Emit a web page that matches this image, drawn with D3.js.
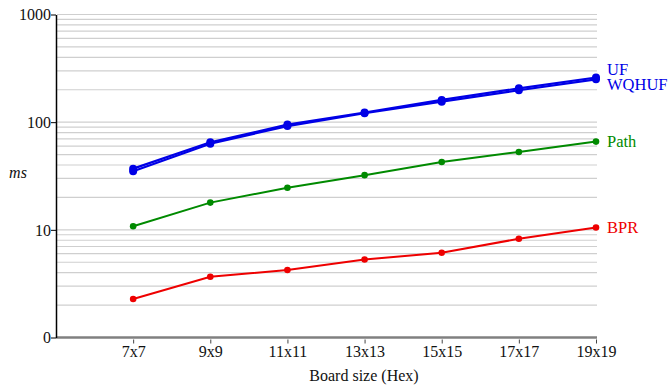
<!DOCTYPE html>
<html>
<head>
<meta charset="utf-8">
<script src="https://cdn.jsdelivr.net/npm/d3@7"></script>
<style>
  html, body { margin: 0; padding: 0; background: #fff; }
  svg { display: block; }
  svg text { font-family: "Liberation Serif", "Times New Roman", Times, serif !important; }
</style>
</head>
<body>
<svg id="chart" width="670" height="387"></svg>
<script>
// Board sizes on the x axis
const boards = ["7x7", "9x9", "11x11", "13x13", "15x15", "17x17", "19x19"];

// Run times in milliseconds for each algorithm
const ufTimes    = [37, 65, 95, 123, 161, 206, 260];
const wqhufTimes = [35, 63, 92, 121, 155, 198, 250];
const pathTimes  = [10.8, 17.9, 24.6, 32.2, 42.6, 52.9, 66];
const bprTimes   = [2.28, 3.67, 4.24, 5.3, 6.12, 8.26, 10.5];

// Y tick values and their labels
const yTicks = [1, 10, 100, 1000];
const yTickLabels = ["0", "10", "100", "1000"];

const series = [
  { name: "UF",    values: ufTimes,    color: "#0000e6", width: 2.2, r: 4,   labelDy: -2.5 },
  { name: "WQHUF", values: wqhufTimes, color: "#0000e6", width: 2.2, r: 4,   labelDy: 10.5 },
  { name: "Path",  values: pathTimes,  color: "#008a00", width: 2,   r: 3.3, labelDy: 5 },
  { name: "BPR",   values: bprTimes,   color: "#ee0000", width: 2,   r: 3.3, labelDy: 5 }
];

const svg = d3.select("#chart");
const plotLeft = 56, plotRight = 597, plotTop = 14.5, plotBottom = 337.5;

// One empty slot to the left of the first board size
const x = d3.scaleLinear().domain([-1, boards.length - 1]).range([plotLeft, 596]);
const y = d3.scaleLog().domain([1, 1000]).range([plotBottom, plotTop]);

// Minor grid lines at every 1..9 multiple of each decade
const gridVals = [];
for (let d = 1; d <= 100; d *= 10) {
  for (let m = 2; m <= 10; m++) gridVals.push(d * m);
}
svg.append("g").selectAll("line").data(gridVals).join("line")
  .attr("x1", plotLeft + 1).attr("x2", plotRight)
  .attr("y1", v => y(v)).attr("y2", v => y(v))
  .attr("stroke", "#cfcfcf").attr("stroke-width", 1.2);

// X axis
const xAxis = svg.append("g").attr("transform", `translate(0,${plotBottom})`)
  .call(d3.axisBottom(x).tickValues(d3.range(boards.length))
    .tickFormat(i => boards[i]).tickSize(6).tickSizeOuter(0));
xAxis.attr("font-family", null);
xAxis.select(".domain").attr("stroke", "#808080").attr("stroke-width", 2.5)
  .attr("d", `M${plotLeft},0H${plotRight}`);
xAxis.selectAll(".tick line").attr("stroke", "#444").attr("stroke-width", 1).attr("y1", 2);
xAxis.selectAll(".tick text").attr("font-size", 16).attr("fill", "#111")
  .attr("dy", "0.85em").attr("y", 6);

// Y axis
const yAxis = svg.append("g").attr("transform", `translate(${plotLeft},0)`)
  .call(d3.axisLeft(y).tickValues(yTicks)
    .tickFormat((v, i) => yTickLabels[i]).tickSize(5).tickSizeOuter(0));
yAxis.attr("font-family", null);
yAxis.select(".domain").attr("stroke", "#000").attr("stroke-width", 1.5);
yAxis.selectAll(".tick line").attr("stroke", "#000").attr("stroke-width", 1);
yAxis.selectAll(".tick text").attr("font-size", 16).attr("fill", "#111")
  .attr("x", -5).attr("dy", "0.33em");

// Axis titles
svg.append("text").attr("x", 364).attr("y", 381).attr("text-anchor", "middle")
  .attr("font-size", 16).attr("fill", "#111").text("Board size (Hex)");
svg.append("text").attr("x", 18).attr("y", 178).attr("text-anchor", "middle")
  .attr("font-size", 16).attr("font-style", "italic").attr("fill", "#111").text("ms");

// Series lines, markers and end labels
const line = d3.line().x((v, i) => x(i)).y(v => y(v));
series.forEach(s => {
  const g = svg.append("g");
  g.append("path").attr("d", line(s.values)).attr("fill", "none")
    .attr("stroke", s.color).attr("stroke-width", s.width);
  g.selectAll("circle").data(s.values).join("circle")
    .attr("cx", (v, i) => x(i)).attr("cy", v => y(v)).attr("r", s.r)
    .attr("fill", s.color);
  const last = s.values[s.values.length - 1];
  g.append("text").attr("x", x(s.values.length - 1) + 11).attr("y", y(last) + s.labelDy)
    .attr("font-size", 16.5).attr("fill", s.color).text(s.name);
});
</script>
</body>
</html>
